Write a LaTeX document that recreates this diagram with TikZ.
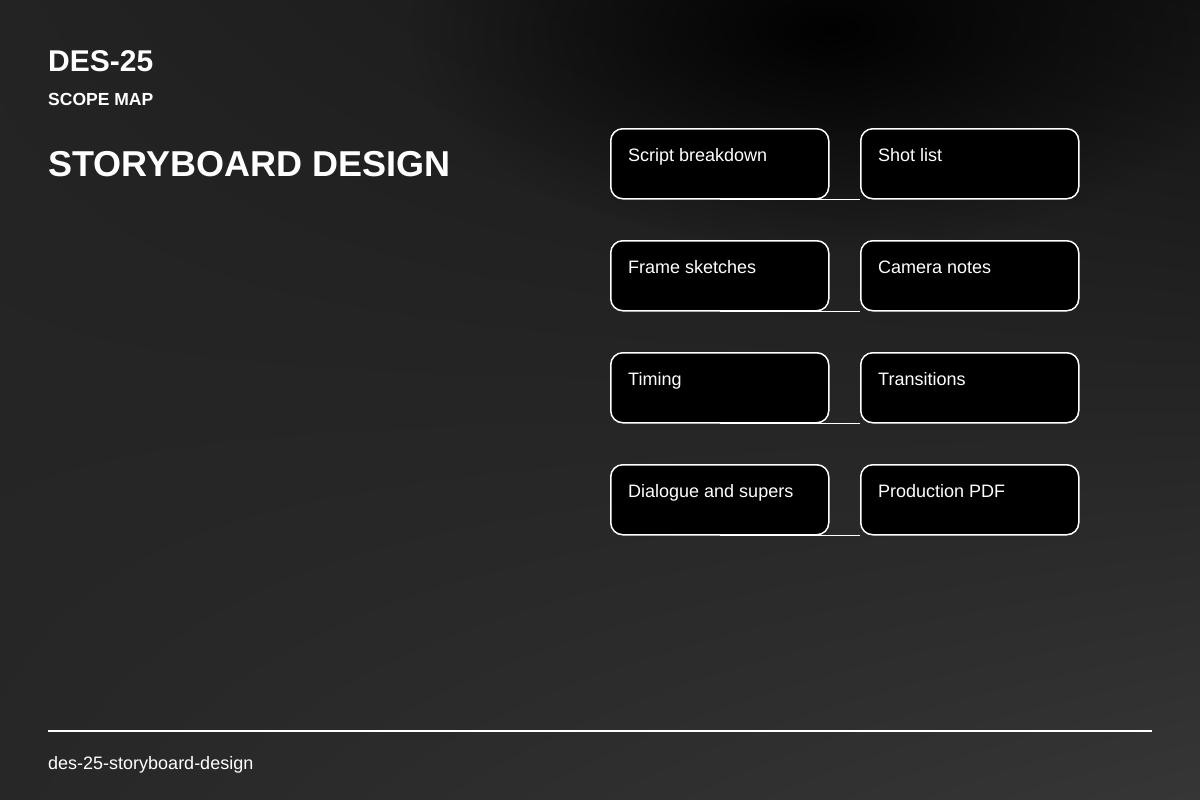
\documentclass[tikz,border=0pt]{standalone}
\usepackage{fontspec}
\setmainfont{Liberation Sans}
\usetikzlibrary{fadings,shadings}
\tikzfading[name=softblob, inner color=transparent!0, outer color=transparent!100]
\definecolor{bgUL}{HTML}{232323}
\definecolor{bgUR}{HTML}{141414}
\definecolor{bgLL}{HTML}{272727}
\definecolor{bgLR}{HTML}{363636}
\tikzset{
  card/.style={draw=white, line width=1.5pt, fill=black, rounded corners=12pt,
    minimum width=218pt, minimum height=70pt, inner sep=0pt, anchor=north west},
  cardtext/.style={anchor=base west, text=white, font=\fontsize{18pt}{21pt}\selectfont, inner sep=0pt},
  link/.style={draw=white, line width=1.5pt},
}
\begin{document}
\begin{tikzpicture}[x=1pt, y=-1pt]
\useasboundingbox (0,0) rectangle (1200,800);
\shade[upper left=bgUL, upper right=bgUR, lower left=bgLL, lower right=bgLR] (0,0) rectangle (1200,800);
\begin{scope}
\clip (0,0) rectangle (1200,800);
\fill[black, opacity=0.95, path fading=softblob] (830,30) ellipse [x radius=420pt, y radius=220pt];
\end{scope}

\node[anchor=base west, text=white, inner sep=0pt, font=\bfseries\fontsize{30pt}{34pt}\selectfont] (code) at (48,72) {DES-25};
\node[anchor=base west, text=white, inner sep=0pt, font=\bfseries\fontsize{17.5pt}{20pt}\selectfont] (sub) at (48,105) {SCOPE MAP};
\node[anchor=base west, text=white, inner sep=0pt, font=\bfseries\fontsize{36pt}{40pt}\selectfont] (title) at (48,176) {STORYBOARD DESIGN};

% rows
\foreach \i/\y/\ltxt/\rtxt in {1/128/Script breakdown/Shot list, 2/240/Frame sketches/Camera notes, 3/352/Timing/Transitions, 4/464/Dialogue and supers/Production PDF}{
  \node[card] (l\i) at (610,\y) {};
  \node[card] (r\i) at (860,\y) {};
  \node[cardtext] (lt\i) at ([xshift=18pt,yshift=-33pt]l\i.north west) {\ltxt};
  \node[cardtext] (rt\i) at ([xshift=18pt,yshift=-33pt]r\i.north west) {\rtxt};
  \draw[link] (l\i.south) -- (r\i.south west);
}

\coordinate (fl) at (48,731);
\coordinate (fr) at (1152,731);
\draw[white, line width=2pt] (fl) -- (fr);
\node[anchor=base west, text=white, inner sep=0pt, font=\fontsize{18pt}{21pt}\selectfont] (foot) at (48,769) {des-25-storyboard-design};
\end{tikzpicture}
\end{document}
